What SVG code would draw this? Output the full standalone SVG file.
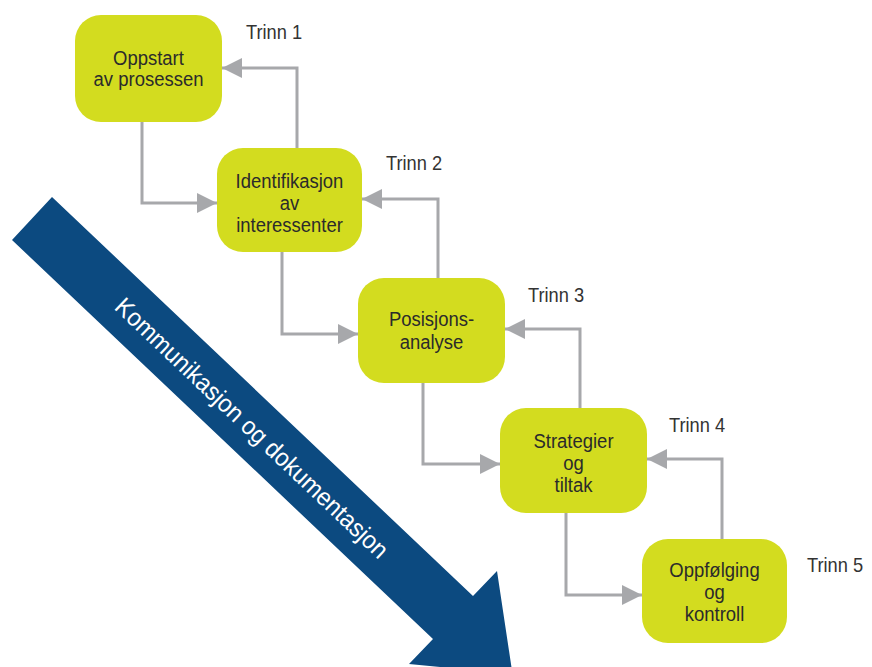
<svg xmlns="http://www.w3.org/2000/svg" width="872" height="667" viewBox="0 0 872 667">
  <style>
    .box { fill: #d3dc1f; }
    .lbl { font-family: "Liberation Sans", Arial, sans-serif; font-size: 21px; fill: #2b2b2b; text-anchor: middle; }
    .step { font-family: "Liberation Sans", Arial, sans-serif; font-size: 21px; fill: #333333; }
    .conn { fill: none; stroke: #a7a8ab; stroke-width: 3; marker-end: url(#head); }
    .band { font-family: "Liberation Sans", Arial, sans-serif; font-size: 25px; fill: #ffffff; text-anchor: middle; }
  </style>
  <defs>
    <marker id="head" markerUnits="userSpaceOnUse" markerWidth="20" markerHeight="20" refX="20" refY="10" orient="auto">
      <path d="M0,0 L20,10 L0,20 z" fill="#a7a8ab"/>
    </marker>
  </defs>
  <rect width="872" height="667" fill="#ffffff"/>

  <!-- diagonal band arrow -->
  <g id="band">
    <polygon points="52,197 473,596 497,571 512.5,674 409,664 433,639 12,240" fill="#0c4a80"/>
    <text class="band" transform="translate(252,428) rotate(43.46) scale(0.94,1)" dy="0.35em">Kommunikasjon og dokumentasjon</text>
  </g>

  <!-- connectors -->
  <g id="connectors">
    <polyline class="conn" points="142,122 142,203 217,203"/>
    <polyline class="conn" points="297,148 297,68 222,68"/>
    <polyline class="conn" points="282,252 282,334 358,334"/>
    <polyline class="conn" points="438,278 438,199 362,199"/>
    <polyline class="conn" points="423,383 423,464 500,464"/>
    <polyline class="conn" points="580,408 580,329 505,329"/>
    <polyline class="conn" points="566,513 566,595 642,595"/>
    <polyline class="conn" points="722,539 722,459 647,459"/>
  </g>

  <!-- nodes: labels drawn in a narrowed frame -->
  <g id="n1">
    <rect class="box" x="75" y="15" width="147" height="107" rx="26"/>
    <g transform="translate(148.5,0) scale(0.88,1)">
      <text class="lbl" x="0" y="65">Oppstart</text>
      <text class="lbl" x="0" y="86">av prosessen</text>
    </g>
  </g>
  <g id="n2">
    <rect class="box" x="217" y="148" width="145" height="104" rx="26"/>
    <g transform="translate(289.5,0) scale(0.88,1)">
      <text class="lbl" x="0" y="188">Identifikasjon</text>
      <text class="lbl" x="0" y="210">av</text>
      <text class="lbl" x="0" y="232">interessenter</text>
    </g>
  </g>
  <g id="n3">
    <rect class="box" x="358" y="278" width="147" height="105" rx="26"/>
    <g transform="translate(431.5,0) scale(0.88,1)">
      <text class="lbl" x="0" y="326">Posisjons-</text>
      <text class="lbl" x="0" y="349">analyse</text>
    </g>
  </g>
  <g id="n4">
    <rect class="box" x="500" y="408" width="147" height="105" rx="26"/>
    <g transform="translate(573.5,0) scale(0.88,1)">
      <text class="lbl" x="0" y="448">Strategier</text>
      <text class="lbl" x="0" y="470">og</text>
      <text class="lbl" x="0" y="492">tiltak</text>
    </g>
  </g>
  <g id="n5">
    <rect class="box" x="642" y="539" width="145" height="104" rx="26"/>
    <g transform="translate(714.5,0) scale(0.88,1)">
      <text class="lbl" x="0" y="577">Oppfølging</text>
      <text class="lbl" x="0" y="599">og</text>
      <text class="lbl" x="0" y="621">kontroll</text>
    </g>
  </g>

  <g id="steps">
    <text class="step" transform="translate(246,39) scale(0.87,1)">Trinn 1</text>
    <text class="step" transform="translate(386,170) scale(0.87,1)">Trinn 2</text>
    <text class="step" transform="translate(528,302) scale(0.87,1)">Trinn 3</text>
    <text class="step" transform="translate(669,432) scale(0.87,1)">Trinn 4</text>
    <text class="step" transform="translate(807,572) scale(0.87,1)">Trinn 5</text>
  </g>
</svg>
